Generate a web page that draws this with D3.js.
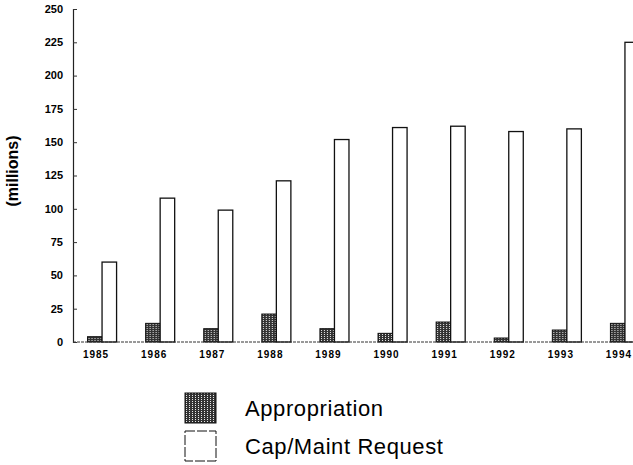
<!DOCTYPE html>
<html>
<head>
<meta charset="utf-8">
<script src="https://cdn.jsdelivr.net/npm/d3@7"></script>
<style>
  body { margin: 0; background: #fff; }
  svg { display: block; font-family: "Liberation Sans", Arial, sans-serif; }
</style>
</head>
<body>
<svg id="chart" width="633" height="465"></svg>
<script>
var years = ["1985", "1986", "1987", "1988", "1989", "1990", "1991", "1992", "1993", "1994"];
var appropriation = [4, 14, 10, 21, 10, 6.5, 15, 3, 9, 14];
var capMaintRequest = [60, 108, 99, 121, 152, 161, 162, 158, 160, 225];
var yTicks = [0, 25, 50, 75, 100, 125, 150, 175, 200, 225, 250];
var seriesNames = ["Appropriation", "Cap/Maint Request"];

var svg = d3.select("#chart");

// hatch pattern for appropriation bars
var defs = svg.append("defs");
var pat = defs.append("pattern")
    .attr("id", "hatch")
    .attr("patternUnits", "userSpaceOnUse")
    .attr("width", 3).attr("height", 2);
pat.append("rect").attr("width", 3).attr("height", 2).attr("fill", "#333");
pat.append("rect").attr("x", 1).attr("y", 0).attr("width", 1).attr("height", 1).attr("fill", "#e8e8e8");

var y = d3.scaleLinear().domain([0, 250]).range([342, 9]);

var x = d3.scaleBand()
    .domain(years)
    .range([73, 654])
    .paddingInner(0.5)
    .paddingOuter(0.25);

var sub = d3.scaleBand()
    .domain(["a", "c"])
    .range([0, x.bandwidth()]);

// y axis
var yAxis = svg.append("g")
    .attr("transform", "translate(73,0)")
    .call(d3.axisRight(y).tickValues(yTicks).tickSize(4).tickFormat(""));
yAxis.select(".domain").attr("stroke", "#222").attr("stroke-width", 1.2);
yAxis.selectAll(".tick line").attr("stroke", "#333");

svg.append("g").selectAll("text")
    .data(yTicks)
    .enter().append("text")
    .attr("x", 63)
    .attr("y", function(d) { return y(d); })
    .attr("dy", "0.35em")
    .attr("text-anchor", "end")
    .attr("font-size", 11)
    .attr("font-weight", "bold")
    .text(function(d) { return d; });

svg.append("text")
    .attr("transform", "translate(18,171) rotate(-90)")
    .attr("text-anchor", "middle")
    .attr("font-size", 16)
    .attr("font-weight", "bold")
    .text("(millions)");

// bars
var groups = svg.append("g").selectAll("g")
    .data(years)
    .enter().append("g")
    .attr("transform", function(d) { return "translate(" + x(d) + ",0)"; });

groups.append("rect")
    .attr("x", sub("a"))
    .attr("y", function(d, i) { return y(appropriation[i]); })
    .attr("width", sub.bandwidth())
    .attr("height", function(d, i) { return y(0) - y(appropriation[i]); })
    .attr("fill", "url(#hatch)")
    .attr("stroke", "#111")
    .attr("stroke-width", 1);

groups.append("rect")
    .attr("x", sub("c"))
    .attr("y", function(d, i) { return y(capMaintRequest[i]); })
    .attr("width", sub.bandwidth())
    .attr("height", function(d, i) { return y(0) - y(capMaintRequest[i]); })
    .attr("fill", "#fff")
    .attr("stroke", "#111")
    .attr("stroke-width", 1.3);

// baseline
svg.append("line")
    .attr("x1", 73).attr("x2", 633)
    .attr("y1", y(0)).attr("y2", y(0))
    .attr("stroke", "#333")
    .attr("stroke-width", 1)
    .attr("stroke-dasharray", "3,1");

// x labels
svg.append("g").selectAll("text")
    .data(years)
    .enter().append("text")
    .attr("x", function(d) { return x(d) + x.bandwidth() / 2 - 6; })
    .attr("y", 358)
    .attr("text-anchor", "middle")
    .attr("font-size", 10)
    .attr("font-weight", "bold")
    .attr("letter-spacing", 1)
    .text(function(d) { return d; });

// legend
var legend = svg.append("g").selectAll("g")
    .data(seriesNames)
    .enter().append("g")
    .attr("transform", function(d, i) { return "translate(185," + (393 + i * 38) + ")"; });

legend.append("rect")
    .attr("width", 31)
    .attr("height", 30)
    .attr("fill", function(d, i) { return i === 0 ? "url(#hatch)" : "#fff"; })
    .attr("stroke", "#111")
    .attr("stroke-width", 1)
    .attr("stroke-dasharray", function(d, i) { return i === 0 ? null : "10,2"; });

legend.append("text")
    .attr("x", 60)
    .attr("y", 23)
    .attr("font-size", 22)
    .attr("letter-spacing", 0.6)
    .text(function(d) { return d; });
</script>
</body>
</html>
